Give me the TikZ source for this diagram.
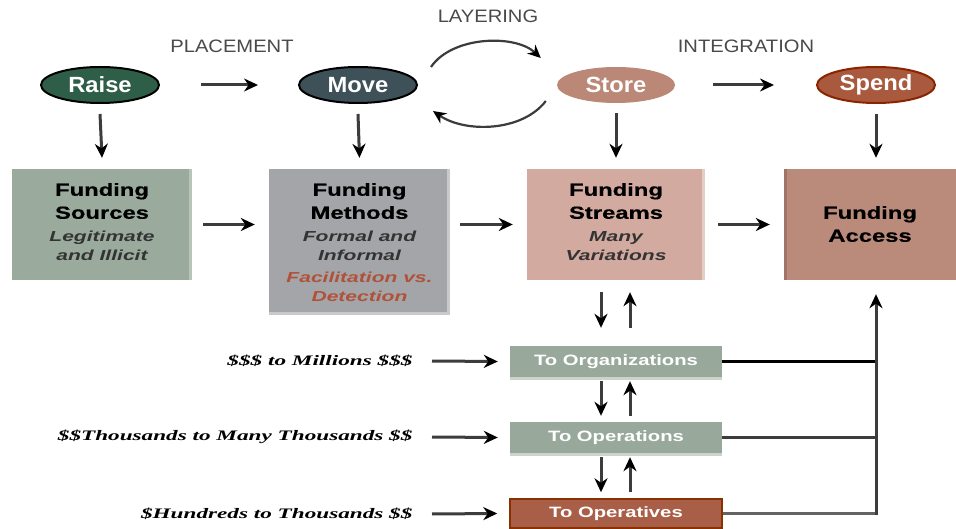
\documentclass[tikz,border=0pt]{standalone}
\usepackage{fontspec}
\setmainfont{Liberation Sans}
\newfontfamily\hdfont[FakeStretch=1.12]{Liberation Sans}
\newfontfamily\ellfont[FakeStretch=1.08]{Liberation Sans}
\newfontfamily\boxfont[FakeStretch=1.36,FakeBold=0.6]{Liberation Sans}
\newfontfamily\subfont[FakeStretch=1.45]{Liberation Sans}
\newfontfamily\tagfont[FakeStretch=1.35]{Liberation Sans}
\newfontfamily\amtfont[FakeStretch=1.6]{Liberation Serif}
\usetikzlibrary{shapes.geometric,arrows.meta}

\definecolor{raisec}{HTML}{2F5E48}
\definecolor{movec}{HTML}{3E5058}
\definecolor{storec}{HTML}{BB8777}
\definecolor{spendc}{HTML}{A95A3E}
\definecolor{spendb}{HTML}{8B2500}
\definecolor{srcc}{HTML}{9AAB9D}
\definecolor{mthc}{HTML}{A3A5A8}
\definecolor{strc}{HTML}{D3AA9F}
\definecolor{accc}{HTML}{BA8A7A}
\definecolor{orgc}{HTML}{98A99B}
\definecolor{stripc}{HTML}{CAD4CA}
\definecolor{opvc}{HTML}{A95E47}
\definecolor{opvb}{HTML}{8B3000}
\definecolor{redtxt}{HTML}{B0523A}
\definecolor{hdc}{HTML}{4A4A4A}
\definecolor{linec}{HTML}{3C3C3C}

\tikzset{
  ell/.style={ellipse, minimum width=118pt, minimum height=36pt, inner sep=0pt,
    text=white, font=\ellfont\bfseries\fontsize{22}{24}\selectfont},
  hd/.style={text=hdc, font=\hdfont\fontsize{18}{20}\selectfont},
  blk/.style={rectangle, inner sep=0pt, draw=none},
  ttl/.style={align=center, text=black, font=\boxfont\bfseries\fontsize{17.5}{23}\selectfont},
  sub/.style={align=center, text=black!80, font=\subfont\bfseries\itshape\fontsize{14.5}{18.5}\selectfont},
  tagbox/.style={rectangle, inner sep=0pt, minimum width=212pt, minimum height=31pt,
    text=white, font=\tagfont\bfseries\fontsize{15}{17}\selectfont},
  amt/.style={anchor=east, text=black, font=\amtfont\bfseries\itshape\fontsize{14.5}{16}\selectfont},
  arr/.style={draw=linec, line width=3pt, -{Stealth[length=14pt,width=13pt,color=black]}},
  thinarr/.style={draw=linec, line width=2.2pt, -{Stealth[length=13pt,width=12pt,color=black]}},
  ln/.style={draw=linec, line width=3pt},
}

\begin{document}
\begin{tikzpicture}[x=1pt,y=-1pt]
\useasboundingbox (0,0) rectangle (956,529);
\fill[white] (0,0) rectangle (956,529);

% stage headings
\node[hd] (placement) at (232,46) {PLACEMENT};
\node[hd] (layering) at (488,16) {LAYERING};
\node[hd] (integration) at (746,46) {INTEGRATION};

% stages
\node[ell, fill=raisec, draw=black, line width=2pt] (raise) at (100,85) {Raise};
\node[ell, fill=movec, draw=black, line width=2pt] (move) at (358,85) {Move};
\node[ell, fill=storec] (store) at (616,85) {Store};
\node[ell, fill=spendc, draw=spendb, line width=2pt] (spend) at (876,85) {Spend};

% funding boxes
\node[blk, fill=srcc, minimum width=180pt, minimum height=111pt] (src) at (102,224.5) {};
\node[blk, fill=mthc, minimum width=181pt, minimum height=146pt] (mth) at (359.5,242) {};
\node[blk, fill=strc, minimum width=178pt, minimum height=111pt] (str) at (616,224.5) {};
\node[blk, fill=accc, minimum width=172pt, minimum height=111pt] (acc) at (870,224.5) {};

% box edges
\draw[line width=3pt, draw=srcc!70!white] ([xshift=-1.5pt]src.north east) -- ([xshift=-1.5pt]src.south east);
\draw[line width=3pt, draw=mthc!60!white] ([xshift=-1.5pt]mth.north east) -- ([xshift=-1.5pt]mth.south east);
\draw[line width=3pt, draw=mthc!60!white] ([yshift=1.5pt]mth.south west) -- ([yshift=1.5pt]mth.south east);
\draw[line width=3pt, draw=strc!60!white] ([xshift=-1.5pt]str.north east) -- ([xshift=-1.5pt]str.south east);
\draw[line width=3pt, draw=accc!85!black] ([xshift=1.5pt]acc.north west) -- ([xshift=1.5pt]acc.south west);

% box texts
\node[ttl] (srcT) at (102,201) {Funding\\Sources};
\node[sub] (srcS) at (102,246) {Legitimate\\and Illicit};
\node[ttl] (mthT) at (359.5,201) {Funding\\Methods};
\node[sub] (mthS) at (359.5,246) {Formal and\\Informal};
\node[sub, text=redtxt] (mthR) at (359.5,287) {Facilitation vs.\\Detection};
\node[ttl] (strT) at (616,201) {Funding\\Streams};
\node[sub] (strS) at (616,246) {Many\\Variations};
\node[ttl] (accT) at (870,224) {Funding\\Access};

% levels
\node[tagbox, fill=orgc] (org) at (616,361.5) {To Organizations};
\node[tagbox, fill=orgc] (ops) at (616,437.5) {To Operations};
\node[tagbox, fill=opvc, draw=opvb, line width=1.5pt, minimum height=29pt] (opv) at (616,513.5) {To Operatives};
\draw[line width=3pt, draw=stripc] ([yshift=-1.5pt]org.south west) -- ([yshift=-1.5pt]org.south east);
\draw[line width=3pt, draw=stripc] ([yshift=-1.5pt]ops.south west) -- ([yshift=-1.5pt]ops.south east);

% amounts
\node[amt] (amt1) at (416,361) {\$\$\$ to Millions \$\$\$};
\node[amt] (amt2) at (416,437) {\$\$Thousands to Many Thousands \$\$};
\node[amt] (amt3) at (416,514) {\$Hundreds to Thousands \$\$};

% stage flow
\draw[arr] ([xshift=41pt]raise.east) -- ([xshift=-40pt]move.west);
\draw[arr] ([xshift=38pt]store.east) -- ([xshift=-42pt]spend.west);
\draw[thinarr] ([xshift=13pt,yshift=18pt]move.east) .. controls (452,36) and (515,34) .. ([xshift=-16pt,yshift=27pt]store.west);
\draw[thinarr] ([xshift=-11pt,yshift=-16pt]store.west) .. controls (522,132) and (465,133) .. ([xshift=15pt,yshift=-26pt]move.east);

% stage to box
\draw[arr] ([yshift=-10pt]raise.south) -- ([yshift=11pt]src.north);
\draw[arr] ([yshift=-10pt]move.south) -- ([yshift=11pt]mth.north);
\draw[arr] ([yshift=-10pt]store.south) -- ([yshift=11pt]str.north);
\draw[arr] ([yshift=-10pt]spend.south) -- ([yshift=11pt]acc.north -| spend.south);

% box flow
\draw[arr] ([xshift=11pt]src.east) -- ([xshift=-14pt]mth.west |- src.east);
\draw[arr] ([xshift=10pt]mth.east |- str.west) -- ([xshift=-14pt]str.west);
\draw[arr] ([xshift=13pt]str.east) -- ([xshift=-14pt]acc.west);

% streams and levels
\draw[arr] ([xshift=-15pt,yshift=-12pt]str.south) -- ([xshift=-15pt,yshift=18pt]org.north);
\draw[arr] ([xshift=14pt,yshift=18pt]org.north) -- ([xshift=14pt,yshift=-12pt]str.south);
\draw[arr] ([xshift=-15pt,yshift=-4pt]org.south) -- ([xshift=-15pt,yshift=6pt]ops.north);
\draw[arr] ([xshift=14pt,yshift=6pt]ops.north) -- ([xshift=14pt,yshift=-4pt]org.south);
\draw[arr] ([xshift=-15pt,yshift=-4pt]ops.south) -- ([xshift=-15pt,yshift=6pt]opv.north);
\draw[arr] ([xshift=14pt,yshift=6pt]opv.north) -- ([xshift=14pt,yshift=-4pt]ops.south);

% amounts into levels
\draw[arr] ([xshift=16pt]amt1.east) -- ([xshift=-12pt]org.west);
\draw[arr] ([xshift=16pt]amt2.east) -- ([xshift=-12pt]ops.west);
\draw[arr] ([xshift=16pt]amt3.east) -- ([xshift=-12pt]opv.west);

% levels to access
\coordinate (bus) at ([xshift=6pt]acc.south);
\draw[ln, draw=black] (org.east) -- (org.east -| bus);
\draw[ln] (ops.east) -- (ops.east -| bus);
\draw[ln, draw=linec!80] (opv.east) -- (opv.east -| bus);
\draw[arr, line cap=rect] (opv.east -| bus) -- ([yshift=-14pt]bus);
\end{tikzpicture}
\end{document}
